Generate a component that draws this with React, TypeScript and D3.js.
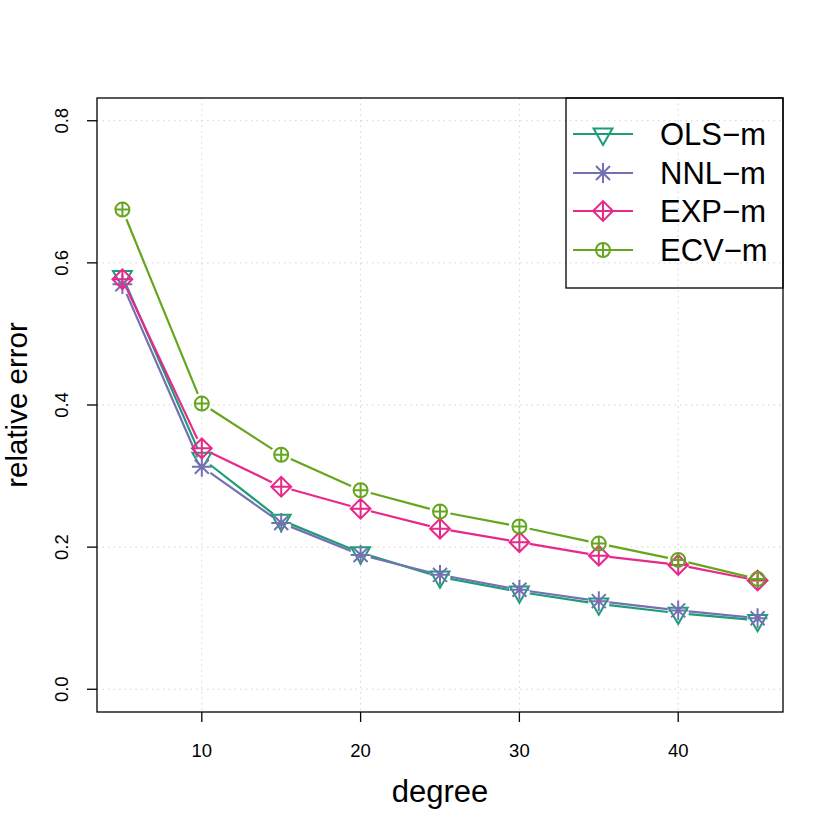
import * as d3 from "d3";

const degrees = [5, 10, 15, 20, 25, 30, 35, 40, 45];
const olsM = [0.581, 0.325, 0.238, 0.192, 0.158, 0.137, 0.12, 0.107, 0.097];
const nnlM = [0.57, 0.313, 0.234, 0.189, 0.161, 0.14, 0.124, 0.111, 0.1];
const expM = [0.577, 0.339, 0.285, 0.254, 0.226, 0.207, 0.188, 0.175, 0.153];
const ecvM = [0.675, 0.402, 0.33, 0.28, 0.25, 0.229, 0.205, 0.182, 0.155];

const xTicks = [10, 20, 30, 40];
const yTicks = [0, 0.2, 0.4, 0.6, 0.8];

const seriesNames = ["OLS\u2212m", "NNL\u2212m", "EXP\u2212m", "ECV\u2212m"];
const seriesValues = [olsM, nnlM, expM, ecvM];
const seriesColors = ["#1B9E77", "#7570B3", "#E7298A", "#66A61E"];
const seriesShapes = ["tri", "star", "diamond", "circle"];

const W = 834;
const H = 834;
const FONT = "'Liberation Sans', Arial, Helvetica, sans-serif";
const R = 7; // base symbol radius
const GAP = 10.5; // type="b" gap around points

const left = 97;
const right = 783;
const top = 98;
const bottom = 712;

// R-style 4% axis padding
const x = d3.scaleLinear().domain([3.4, 46.6]).range([left, right]);
const y = d3.scaleLinear().domain([-0.032, 0.832]).range([bottom, top]);

function Marker({ cx, cy, shape, color }: { cx: number; cy: number; shape: string; color: string }) {
  const common = { fill: "none", stroke: color, strokeWidth: 2 };
  if (shape === "tri") {
    const r = 1.555 * R;
    const yc = 0.778 * R;
    const xc = 1.347 * R;
    return <path d={`M${cx},${cy + r}L${cx + xc},${cy - yc}L${cx - xc},${cy - yc}Z`} {...common} />;
  }
  if (shape === "star") {
    const a = Math.SQRT2 * R;
    return (
      <path
        d={`M${cx - a},${cy}H${cx + a}M${cx},${cy - a}V${cy + a}M${cx - R},${cy - R}L${cx + R},${cy + R}M${cx - R},${cy + R}L${cx + R},${cy - R}`}
        {...common}
      />
    );
  }
  if (shape === "diamond") {
    const a = Math.SQRT2 * R;
    return (
      <path
        d={`M${cx - a},${cy}L${cx},${cy - a}L${cx + a},${cy}L${cx},${cy + a}ZM${cx - a},${cy}H${cx + a}M${cx},${cy - a}V${cy + a}`}
        {...common}
      />
    );
  }
  return (
    <g>
      <circle cx={cx} cy={cy} r={R} {...common} />
      <path d={`M${cx - R},${cy}H${cx + R}M${cx},${cy - R}V${cy + R}`} {...common} />
    </g>
  );
}

function gappedPath(vals: number[]) {
  const pts = degrees.map((d, i) => [x(d), y(vals[i])]);
  let d = "";
  for (let i = 0; i < pts.length - 1; i++) {
    const [x0, y0] = pts[i];
    const [x1, y1] = pts[i + 1];
    const len = Math.hypot(x1 - x0, y1 - y0);
    if (len <= 2 * GAP) continue;
    const ux = (x1 - x0) / len;
    const uy = (y1 - y0) / len;
    d += `M${x0 + ux * GAP},${y0 + uy * GAP}L${x1 - ux * GAP},${y1 - uy * GAP}`;
  }
  return d;
}

export default function App() {
  const legX = 566;
  const legY = 98;
  const legW = 217;
  const legH = 190;
  const rowY = [134, 173, 211, 250];

  return (
    <svg
      width={W}
      height={H}
      style={{ position: "absolute", left: 0, top: 0, background: "#fff" }}
      fontFamily={FONT}
    >
      <rect width={W} height={H} fill="#fff" />
      {/* grid */}
      {xTicks.map((t) => (
        <line key={"gx" + t} x1={x(t)} x2={x(t)} y1={top} y2={bottom} stroke="#d3d3d3" strokeDasharray="1.5 4" />
      ))}
      {yTicks.map((t) => (
        <line key={"gy" + t} x1={left} x2={right} y1={y(t)} y2={y(t)} stroke="#d3d3d3" strokeDasharray="1.5 4" />
      ))}

      {/* series */}
      {seriesValues.map((vals, si) => (
        <g key={"s" + si}>
          <path d={gappedPath(vals)} fill="none" stroke={seriesColors[si]} strokeWidth={2.2} />
          {degrees.map((d, i) => (
            <Marker key={i} cx={x(d)} cy={y(vals[i])} shape={seriesShapes[si]} color={seriesColors[si]} />
          ))}
        </g>
      ))}

      {/* box */}
      <rect x={left} y={top} width={right - left} height={bottom - top} fill="none" stroke="#000" strokeWidth={1.3} />

      {/* x axis */}
      {xTicks.map((t) => (
        <g key={"xt" + t}>
          <line x1={x(t)} x2={x(t)} y1={bottom} y2={bottom + 10} stroke="#000" strokeWidth={1.3} />
          <text x={x(t)} y={757} textAnchor="middle" fontSize={18.5}>
            {t}
          </text>
        </g>
      ))}
      {/* y axis */}
      {yTicks.map((t) => (
        <g key={"yt" + t}>
          <line x1={left} x2={left - 10} y1={y(t)} y2={y(t)} stroke="#000" strokeWidth={1.3} />
          <text
            transform={`translate(68,${y(t)}) rotate(-90)`}
            textAnchor="middle"
            fontSize={18.5}
          >
            {t.toFixed(1)}
          </text>
        </g>
      ))}

      <text x={(left + right) / 2} y={802} textAnchor="middle" fontSize={31}>
        degree
      </text>
      <text transform={`translate(27,${(top + bottom) / 2}) rotate(-90)`} textAnchor="middle" fontSize={29.5}>
        relative error
      </text>

      {/* legend */}
      <rect x={legX} y={legY} width={legW} height={legH} fill="none" stroke="#000" strokeWidth={1.3} />
      {seriesNames.map((name, i) => (
        <g key={"l" + i}>
          <line x1={573} x2={633} y1={rowY[i]} y2={rowY[i]} stroke={seriesColors[i]} strokeWidth={2.2} />
          <Marker cx={603} cy={rowY[i]} shape={seriesShapes[i]} color={seriesColors[i]} />
          <text x={660} y={rowY[i] + 11} fontSize={31}>
            {name}
          </text>
        </g>
      ))}
    </svg>
  );
}
